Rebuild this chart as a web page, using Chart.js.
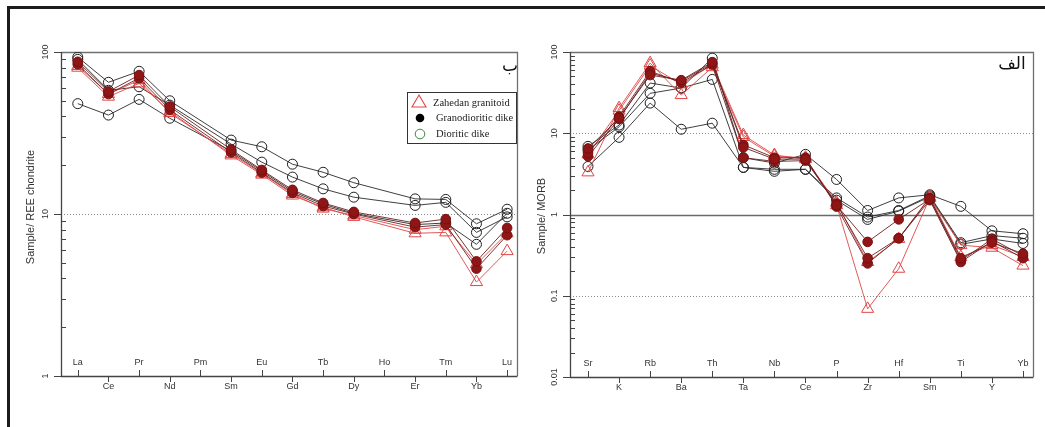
<!DOCTYPE html>
<html><head><meta charset="utf-8">
<script src="https://cdn.jsdelivr.net/npm/chart.js@4"></script>
<style>
html,body{margin:0;padding:0;background:#fff;width:1045px;height:427px;overflow:hidden;}
#frame{position:absolute;left:7px;top:6px;width:1060px;height:440px;border-top:3px solid #1c1c1c;border-left:3px solid #1c1c1c;}
#c1{position:absolute;left:0;top:0;}
#c2{position:absolute;left:525px;top:0;}
</style></head><body>
<div id="frame"></div>
<canvas id="c1" width="525" height="427"></canvas>
<canvas id="c2" width="520" height="427"></canvas>
<script>
// ---------- data: REE (chondrite normalized) ----------
const reeCategories = ["La","Ce","Pr","Nd","Pm","Sm","Eu","Gd","Tb","Dy","Ho","Er","Tm","Yb","Lu"];
const reeYTicks = [1, 10, 100];
const reeDioritic1 = [93, 65, 76, 50, null, 28.6, 26, 20.3, 18.1, 15.6, null, 12.4, 12.3, 8.7, 10.7];
const reeDioritic2 = [90, 58, 61, 47, null, 27, 20.9, 16.9, 14.3, 12.7, null, 11.3, 11.8, 7.7, 9.6];
const reeDioritic3 = [48, 40.8, 51, 39, null, 24.5, 18.4, 13.8, 11.5, 10.1, null, 8.6, 8.8, 6.5, 10.1];
const reeGranodioritic1 = [87, 57, 72, 46, null, 25, 18.7, 14.1, 11.7, 10.3, null, 8.8, 9.3, 5.1, 8.2];
const reeGranodioritic2 = [84, 55, 69, 44, null, 24, 18, 13.5, 11.2, 10, null, 8.3, 8.6, 4.6, 7.4];
const reeZahedan1 = [80, 53, 64, 43, null, 23, 17.5, 13, 11, 9.6, null, 7.6, 7.7, 3.8, 5.9];
const reeZahedan2 = [82, 55, 67, 42, null, 23.5, 17.8, 13.3, 10.8, 9.8, null, 8.0, 8.4, 4.9, 7.6];

// ---------- data: spider (MORB normalized) ----------
const morbCategories = ["Sr","K","Rb","Ba","Th","Ta","Nb","Ce","P","Zr","Hf","Sm","Ti","Y","Yb"];
const morbYTicks = [0.01, 0.1, 1, 10, 100];
const morbDioritic1 = [6.9, 12.6, 41.5, 36, 84, 5.0, 4.3, 5.5, 2.7, 1.12, 1.6, 1.75, 1.26, 0.63, 0.58];
const morbDioritic2 = [6.2, 12, 31, 36, 46, 3.8, 3.6, 3.6, 1.6, 0.93, 1.12, 1.7, 0.45, 0.55, 0.51];
const morbDioritic3 = [3.9, 8.9, 23.5, 11.2, 13.3, 3.8, 3.4, 3.6, 1.5, 0.87, 1.1, 1.65, 0.43, 0.5, 0.44];
const morbGranodioritic1 = [6.5, 15.3, 52, 45, 75, 6.7, 4.8, 4.8, 1.3, 0.46, 0.87, 1.55, 0.29, 0.45, 0.33];
const morbGranodioritic2 = [5.7, 16, 58, 42, 70, 5.0, 4.5, 4.6, 1.35, 0.29, 0.51, 1.5, 0.26, 0.47, 0.29];
const morbGranodioritic3 = [5.2, 15, 55, 44, 72, 7.2, 5.0, 5.0, 1.25, 0.25, 0.51, 1.6, 0.27, 0.5, 0.31];
const morbZahedan1 = [3.3, 20.4, 73, 29.5, 65, 9.0, 5.2, 5.0, 1.3, 0.069, 0.215, 1.6, 0.42, 0.39, 0.235];
const morbZahedan2 = [5.5, 19, 68, 40, 70, 9.5, 5.4, 4.8, 1.4, 0.26, 0.5, 1.65, 0.3, 0.42, 0.3];

// ---------- text ----------
const legendLabels = ["Zahedan granitoid", "Granodioritic dike", "Dioritic dike"];
const reeTitle = "Sample/ REE chondrite";
const morbTitle = "Sample/ MORB";
const reePanelLetter = "ب";
const morbPanelLetter = "الف";

// ---------- styles ----------
const kinds = {
  dioritic: {pointStyle:'circle', pointRadius:5, pointBorderColor:'#1e1e1e', pointBackgroundColor:'rgba(255,255,255,0)', pointBorderWidth:1, borderColor:'#2a2a2a', borderWidth:0.9, order:3},
  zahedan: {pointStyle:'triangle', pointRadius:7, pointBorderColor:'#e04646', pointBackgroundColor:'rgba(255,255,255,0)', pointBorderWidth:1, borderColor:'#e04646', borderWidth:0.9, order:2},
  granodioritic: {pointStyle:'circle', pointRadius:4.8, pointBorderColor:'#7a0f0f', pointBackgroundColor:'#8e1616', pointBorderWidth:1, borderColor:'#6a2020', borderWidth:0.9, order:1}
};
function ds(vals, kind){
  const k = kinds[kind];
  return Object.assign({data: vals.map((v,i)=>({x:i, y:v})), spanGaps:true, tension:0, fill:false}, k);
}

const FONT = '"Liberation Sans", Arial, sans-serif';

function panelPlugin(cfg){
  return {
    id: 'panelDeco',
    beforeDatasetsDraw(chart){
      const ctx = chart.ctx, a = chart.chartArea, ys = chart.scales.y, xs = chart.scales.x;
      ctx.save();
      cfg.grid.forEach(g=>{
        const y = Math.round(ys.getPixelForValue(g.v)) + 0.5;
        ctx.beginPath();
        ctx.strokeStyle = g.dotted ? '#8a8a8a' : '#6a6a6a';
        ctx.lineWidth = g.dotted ? 1 : 1.3;
        ctx.setLineDash(g.dotted ? [1,2] : []);
        ctx.moveTo(a.left, y); ctx.lineTo(a.right, y); ctx.stroke();
      });
      ctx.setLineDash([]);
      ctx.strokeStyle = '#707070'; ctx.lineWidth = 1.3;
      ctx.beginPath();
      ctx.moveTo(a.left, a.top+0.5); ctx.lineTo(a.right+0.5, a.top+0.5); ctx.lineTo(a.right+0.5, a.bottom);
      ctx.stroke();
      ctx.strokeStyle = '#444'; ctx.lineWidth = 1.3;
      ctx.beginPath();
      ctx.moveTo(a.left+0.5, a.top); ctx.lineTo(a.left+0.5, a.bottom+0.5); ctx.lineTo(a.right+0.5, a.bottom+0.5);
      ctx.stroke();
      ctx.lineWidth = 1;
      const d0 = Math.round(Math.log10(ys.min)), d1 = Math.round(Math.log10(ys.max));
      for (let d=d0; d<=d1; d++){
        const y = Math.round(ys.getPixelForValue(Math.pow(10,d))) + 0.5;
        ctx.beginPath(); ctx.moveTo(a.left-7, y); ctx.lineTo(a.left, y); ctx.stroke();
        if (d<d1){
          for (let m=2; m<=9; m++){
            const ym = Math.round(ys.getPixelForValue(m*Math.pow(10,d))) + 0.5;
            ctx.beginPath(); ctx.moveTo(a.left, ym); ctx.lineTo(a.left+5, ym); ctx.stroke();
          }
        }
      }
      cfg.categories.forEach((c,i)=>{
        const x = Math.round(xs.getPixelForValue(i)) + 0.5;
        ctx.beginPath();
        if (i%2===0){ ctx.moveTo(x, a.bottom); ctx.lineTo(x, a.bottom-6); }
        else { ctx.moveTo(x, a.bottom); ctx.lineTo(x, a.bottom+6); }
        ctx.stroke();
      });
      ctx.restore();
    },
    afterDraw(chart){
      const ctx = chart.ctx, a = chart.chartArea, ys = chart.scales.y, xs = chart.scales.x;
      ctx.save();
      ctx.fillStyle = '#333';
      ctx.font = '9px ' + FONT;
      ctx.textAlign = 'center'; ctx.textBaseline = 'middle';
      cfg.categories.forEach((c,i)=>{
        const x = xs.getPixelForValue(i);
        const y = (i%2===0) ? a.bottom-13 : a.bottom+11;
        ctx.fillText(c, x, y);
      });
      cfg.yTicks.forEach(v=>{
        const y = ys.getPixelForValue(v);
        ctx.save(); ctx.translate(cfg.yLabelX, y); ctx.rotate(-Math.PI/2);
        ctx.fillText(String(v), 0, 0); ctx.restore();
      });
      ctx.font = '11px ' + FONT; ctx.fillStyle = '#333';
      ctx.save(); ctx.translate(cfg.titleX, cfg.titleY); ctx.rotate(-Math.PI/2);
      ctx.fillText(cfg.title, 0, 0); ctx.restore();
      ctx.font = '17px "DejaVu Sans", sans-serif'; ctx.fillStyle = '#111';
      ctx.fillText(cfg.letter, cfg.letterX, cfg.letterY);
      if (cfg.legend){
        const L = cfg.legend;
        ctx.strokeStyle = '#333'; ctx.lineWidth = 1;
        ctx.strokeRect(L.x+0.5, L.y+0.5, L.w, L.h);
        ctx.font = '10.5px "Liberation Serif", "Times New Roman", serif';
        ctx.textAlign = 'left'; ctx.fillStyle = '#222';
        const tx = L.x+12, ty = L.y+10;
        ctx.strokeStyle = '#e04646'; ctx.lineWidth = 1.1;
        ctx.beginPath(); ctx.moveTo(tx, ty-7); ctx.lineTo(tx+7, ty+5); ctx.lineTo(tx-7, ty+5); ctx.closePath(); ctx.stroke();
        ctx.fillText(legendLabels[0], L.x+26, ty+1);
        const cy = L.y+26;
        ctx.fillStyle = '#000'; ctx.beginPath(); ctx.arc(L.x+13, cy, 4.3, 0, Math.PI*2); ctx.fill();
        ctx.fillStyle = '#222'; ctx.fillText(legendLabels[1], L.x+29, cy);
        const oy = L.y+42;
        ctx.strokeStyle = '#3a8a3a'; ctx.lineWidth = 1;
        ctx.beginPath(); ctx.arc(L.x+13, oy, 4.8, 0, Math.PI*2); ctx.stroke();
        ctx.fillText(legendLabels[2], L.x+29, oy);
      }
      ctx.restore();
    }
  };
}

function makeChart(id, cfg, datasets){
  return new Chart(document.getElementById(id), {
    type: 'line',
    data: {datasets},
    options: {
      responsive: false, animation: false, events: [],
      layout: {padding: cfg.padding},
      plugins: {legend:{display:false}, tooltip:{enabled:false}},
      scales: {
        x: {type:'linear', min: cfg.xMin, max: cfg.xMax, display:false},
        y: {type:'logarithmic', min: cfg.yTicks[0], max: cfg.yTicks[cfg.yTicks.length-1], display:false}
      }
    },
    plugins: [panelPlugin(cfg)]
  });
}

makeChart('c1', {
  categories: reeCategories, yTicks: reeYTicks,
  xMin: -0.547, xMax: 14.322,
  padding: {left:61, right:2, top:52, bottom:51},
  grid: [{v:10, dotted:true}],
  yLabelX: 45.5, title: reeTitle, titleX: 31, titleY: 207,
  letter: reePanelLetter, letterX: 510, letterY: 67,
  legend: {x:407, y:92, w:109, h:51}
}, [
  ds(reeGranodioritic1,'granodioritic'), ds(reeGranodioritic2,'granodioritic'),
  ds(reeZahedan1,'zahedan'), ds(reeZahedan2,'zahedan'),
  ds(reeDioritic1,'dioritic'), ds(reeDioritic2,'dioritic'), ds(reeDioritic3,'dioritic')
]);

makeChart('c2', {
  categories: morbCategories, yTicks: morbYTicks,
  xMin: -0.579, xMax: 14.322,
  padding: {left:45, right:12, top:52, bottom:50},
  grid: [{v:10, dotted:true}, {v:1, dotted:false}, {v:0.1, dotted:true}],
  yLabelX: 30, title: morbTitle, titleX: 17, titleY: 216,
  letter: morbPanelLetter, letterX: 487, letterY: 65,
  legend: null
}, [
  ds(morbGranodioritic1,'granodioritic'), ds(morbGranodioritic2,'granodioritic'), ds(morbGranodioritic3,'granodioritic'),
  ds(morbZahedan1,'zahedan'), ds(morbZahedan2,'zahedan'),
  ds(morbDioritic1,'dioritic'), ds(morbDioritic2,'dioritic'), ds(morbDioritic3,'dioritic')
]);
</script>
</body></html>
